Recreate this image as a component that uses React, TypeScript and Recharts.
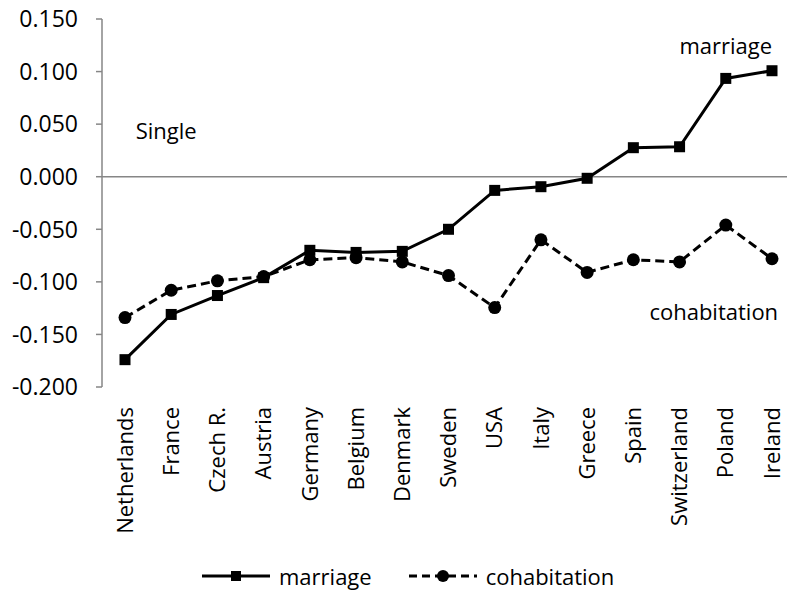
import React from 'react';
import { LineChart, Line, XAxis, YAxis, ReferenceLine, ReferenceDot, Legend } from 'recharts';

const countries = ['Netherlands', 'France', 'Czech R.', 'Austria', 'Germany', 'Belgium', 'Denmark', 'Sweden', 'USA', 'Italy', 'Greece', 'Spain', 'Switzerland', 'Poland', 'Ireland'];
const marriage = [-0.174, -0.131, -0.113, -0.096, -0.070, -0.072, -0.071, -0.050, -0.013, -0.0095, -0.0015, 0.0276, 0.0285, 0.0935, 0.1008];
const cohabitation = [-0.134, -0.108, -0.099, -0.095, -0.079, -0.077, -0.081, -0.094, -0.1245, -0.060, -0.091, -0.079, -0.081, -0.046, -0.078];
const yTicks = [-0.2, -0.15, -0.1, -0.05, 0, 0.05, 0.1, 0.15];

const data = countries.map((c, i) => ({ country: c, marriage: marriage[i], cohabitation: cohabitation[i] }));

const FONT = '"Open Sans", sans-serif';
const FS = 22;

const XTick = (props: any) => {
  const { x, y, payload } = props;
  return (
    <g transform={`translate(${x},${y})`}>
      <text transform="rotate(-90)" x={0} y={0} dy="0.35em" textAnchor="end" fill="#000" fontFamily={FONT} fontSize={FS}>
        {payload.value}
      </text>
    </g>
  );
};

const YTick = (props: any) => {
  const { x, y, payload } = props;
  return (
    <text x={x} y={y} dy="0.36em" textAnchor="end" fill="#000" fontFamily={FONT} fontSize={23}>
      {Number(payload.value).toFixed(3)}
    </text>
  );
};

const SquareDot = (props: any) => {
  const { cx, cy } = props;
  if (cx == null || cy == null) return null;
  return <rect x={cx - 5.5} y={cy - 5.5} width={11} height={11} fill="#000" />;
};

const CircleDot = (props: any) => {
  const { cx, cy } = props;
  if (cx == null || cy == null) return null;
  return <circle cx={cx} cy={cy} r={6.5} fill="#000" />;
};

const LegendContent = () => (
  <div style={{ display: 'flex', alignItems: 'center', fontFamily: FONT, fontSize: FS, color: '#000', lineHeight: '24px', whiteSpace: 'nowrap' }}>
    <svg width={68} height={20} style={{ marginRight: 9 }}>
      <line x1={0} y1={10} x2={68} y2={10} stroke="#000" strokeWidth={3} />
      <rect x={29} y={5} width={10} height={10} fill="#000" />
    </svg>
    <span>marriage</span>
    <svg width={68} height={20} style={{ marginLeft: 37, marginRight: 9 }}>
      <line x1={0} y1={10} x2={68} y2={10} stroke="#000" strokeWidth={3} strokeDasharray="8 5" />
      <circle cx={34} cy={10} r={6} fill="#000" />
    </svg>
    <span>cohabitation</span>
  </div>
);

export default function App() {
  return (
    <div style={{ position: 'absolute', left: 0, top: 0, width: 787, height: 591, overflow: 'hidden', background: '#fff' }}>
      <LineChart width={800} height={591} data={data} margin={{ top: 19, right: 5, bottom: 10, left: 0 }}>
        <XAxis
          dataKey="country"
          axisLine={false}
          tickLine={false}
          tickSize={0}
          tickMargin={20}
          interval={0}
          height={170}
          padding={{ left: 23, right: 23 }}
          tick={<XTick />}
        />
        <YAxis
          type="number"
          domain={[-0.2, 0.15]}
          ticks={yTicks}
          width={102}
          axisLine={{ stroke: '#868686', strokeWidth: 1.5 }}
          tickLine={{ stroke: '#868686', strokeWidth: 1.5 }}
          tickSize={6}
          tickMargin={18}
          tick={<YTick />}
        />
        <ReferenceLine y={0} stroke="#868686" strokeWidth={1.5} />
        <Legend
          verticalAlign="bottom"
          content={<LegendContent />}
          wrapperStyle={{ position: 'absolute', left: 202, top: 564, width: 'auto' }}
        />
        <Line
          type="linear"
          dataKey="marriage"
          name="marriage"
          stroke="#000"
          strokeWidth={3}
          dot={<SquareDot />}
          activeDot={false}
          isAnimationActive={false}
        />
        <Line
          type="linear"
          dataKey="cohabitation"
          name="cohabitation"
          stroke="#000"
          strokeWidth={3}
          strokeDasharray="9 5"
          dot={<CircleDot />}
          activeDot={false}
          isAnimationActive={false}
        />
        <ReferenceDot x="France" y={0.043} r={0} fill="none" stroke="none"
          label={{ value: 'Single', position: 'center', dx: -5, fill: '#000', fontFamily: FONT, fontSize: FS }} />
        <ReferenceDot x="Poland" y={0.124} r={0} fill="none" stroke="none"
          label={{ value: 'marriage', position: 'center', fill: '#000', fontFamily: FONT, fontSize: FS }} />
        <ReferenceDot x="Poland" y={-0.129} r={0} fill="none" stroke="none"
          label={{ value: 'cohabitation', position: 'center', dx: -12, fill: '#000', fontFamily: FONT, fontSize: FS }} />
      </LineChart>
    </div>
  );
}
